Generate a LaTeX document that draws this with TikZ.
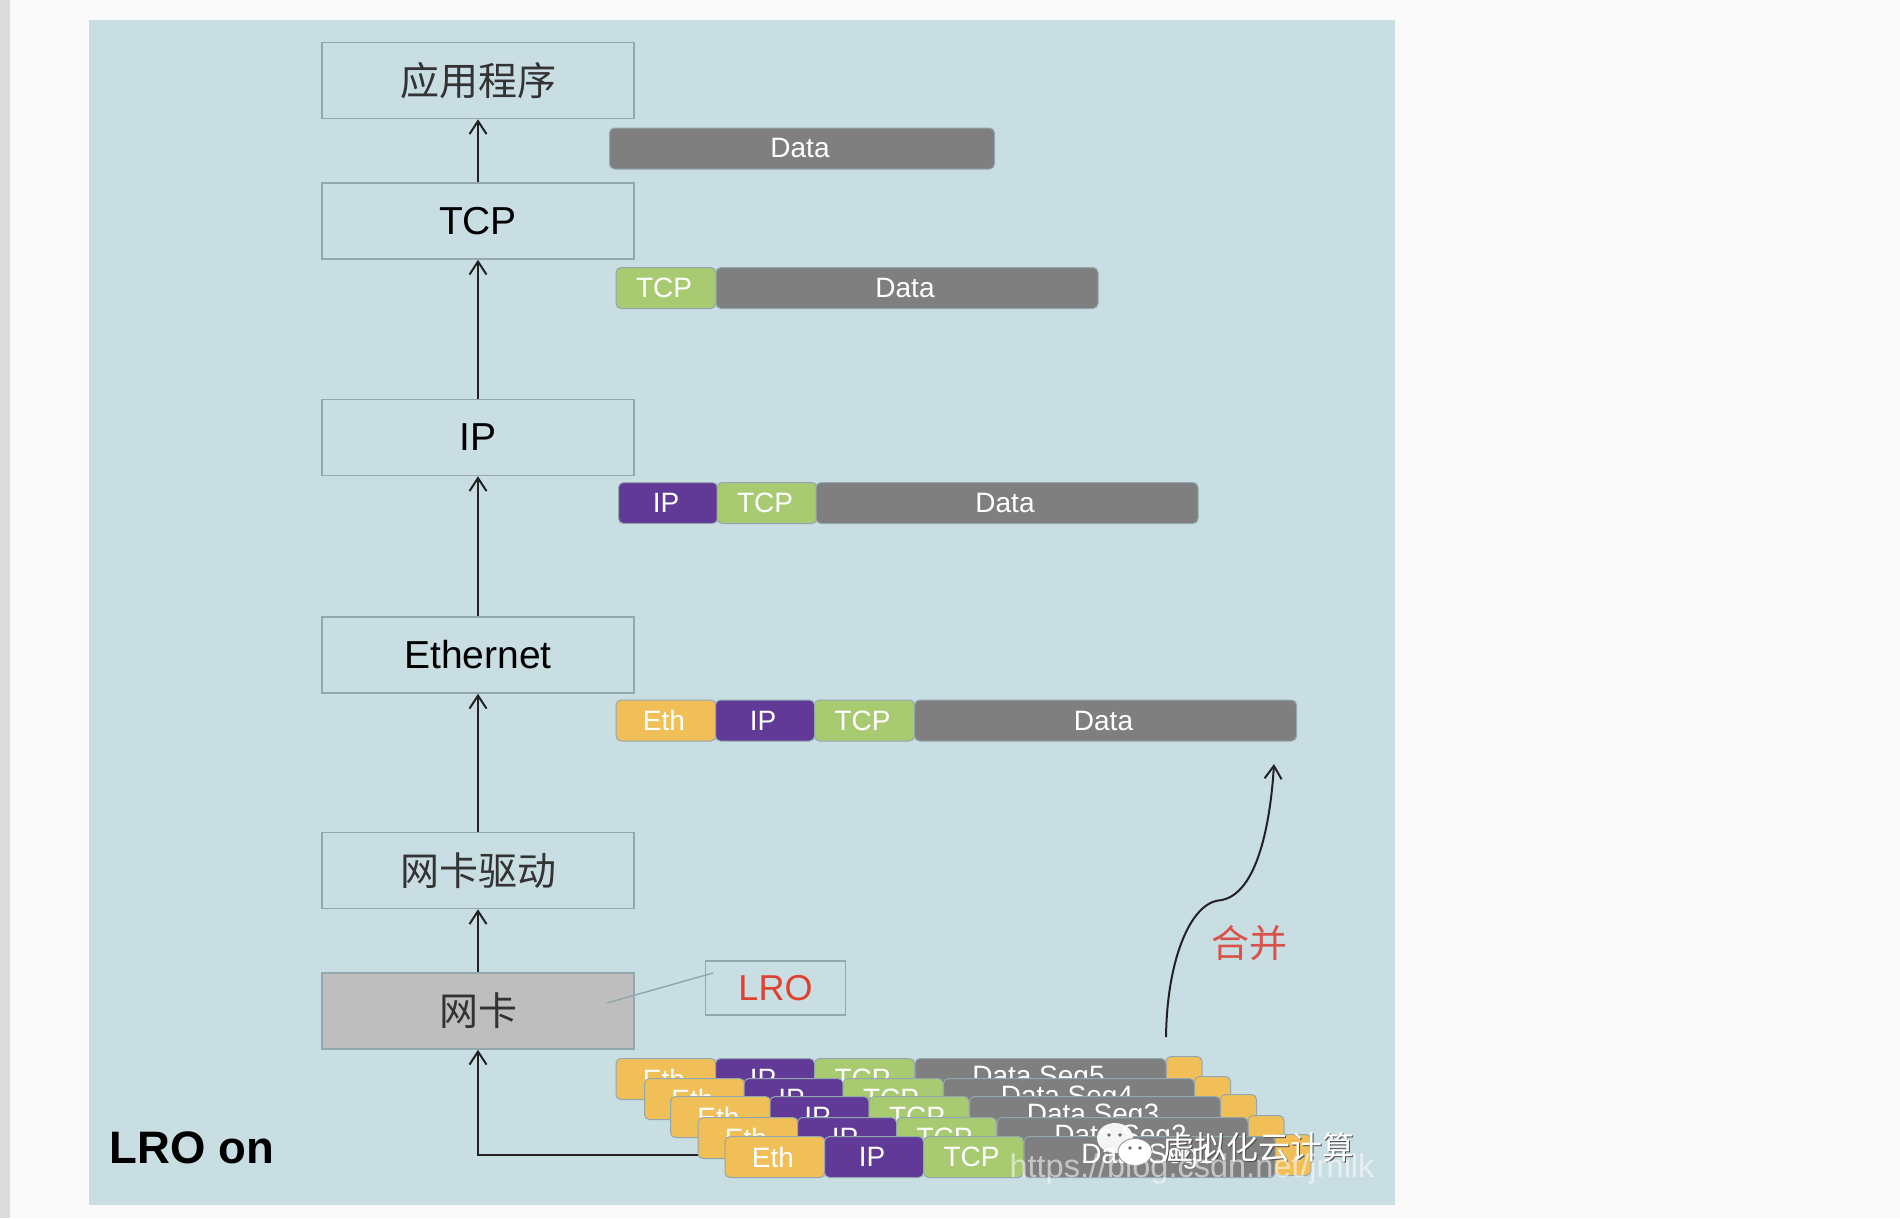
\documentclass[tikz,border=0pt]{standalone}
\usepackage{fontspec}
\setmainfont{Liberation Sans}
\newfontfamily\cjk{Noto Sans CJK SC}
\usepackage{xcolor}
\usepackage{tikz}
\usetikzlibrary{backgrounds}
\usetikzlibrary{arrows.meta}
\definecolor{pagebg}{HTML}{FAFAFA}
\definecolor{stripbg}{HTML}{DCDCDC}
\definecolor{panelbg}{HTML}{C9DEE3}
\definecolor{edgec}{HTML}{93A8AE}
\definecolor{ethc}{HTML}{F0BF58}
\definecolor{ipc}{HTML}{603A96}
\definecolor{tcpc}{HTML}{A8CB72}
\definecolor{datc}{HTML}{7F7F7F}
\definecolor{nicc}{HTML}{BEBEBE}
\definecolor{arrc}{HTML}{222222}
\definecolor{lroc}{HTML}{E0402F}
\definecolor{hebc}{HTML}{D9534A}

\newcommand{\pkfont}{\fontsize{28}{30}\selectfont\kern-4pt}
\newcommand{\lyfont}{\fontsize{39}{42}\selectfont}

\begin{document}
\begin{tikzpicture}
[x=1pt,y=-1pt,
background rectangle/.style={fill=pagebg},
show background rectangle,inner frame sep=0pt,
layr/.style={rectangle,draw=edgec,line width=1.5pt,minimum width=312pt,minimum height=76pt,inner sep=0pt,font=\lyfont},
nicb/.style={layr,fill=nicc},
lrob/.style={rectangle,draw=edgec,line width=1.5pt,minimum width=140pt,minimum height=54pt,inner sep=0pt},
pack/.style={rectangle,draw=edgec,line width=1pt,rounded corners=5pt,minimum height=41pt,inner sep=0pt,text=white,font=\pkfont},
ethh/.style={pack,fill=ethc,minimum width=100pt},
iphd/.style={pack,fill=ipc,minimum width=99pt},
tcph/.style={pack,fill=tcpc,minimum width=100pt},
datp/.style={pack,fill=datc,minimum width=382pt},
segd/.style={pack,fill=datc,minimum width=251pt},
tailb/.style={pack,fill=ethc,minimum width=36pt},
upar/.style={-{Straight Barb[length=13pt,width=17pt]},draw=arrc,line width=2pt}]

\useasboundingbox (0,0) rectangle (1900,1218);
\fill [stripbg] (0,0) rectangle (10,1218);
\fill [panelbg] (89,20) rectangle (1395,1205);

% protocol layers
\node at (478,80.5) [layr] (app)  {\color{black!80}\cjk 应用程序};
\node at (478,221)  [layr] (tcp)  {TCP};
\node at (478,437.5) [layr] (ip)  {IP};
\node at (478,655)  [layr] (eth)  {Ethernet};
\node at (478,870.5) [layr] (drv) {\color{black!80}\cjk 网卡驱动};
\node at (478,1011) [nicb] (nic) {\color{black!80}\cjk 网卡};
\node at (775.5,988)  [lrob] (lro) {\fontsize{36}{38}\selectfont\color{lroc} LRO};
\node at (192,1148) (lroon) {\fontsize{45.5}{48}\selectfont\bfseries LRO on};

\coordinate (niclead) at (607,1003);
\coordinate (lrolead) at (713,973);
\draw [draw=edgec,line width=1.5pt] (niclead) to (lrolead);

\draw [upar] (tcp.north) to (app.south);
\draw [upar] (ip.north) to (tcp.south);
\draw [upar] (eth.north) to (ip.south);
\draw [upar] (drv.north) to (eth.south);
\draw [upar] (nic.north) to (drv.south);
\coordinate (wirein) at (700,1155);
\draw [upar] (wirein) -| (nic.south);

% packets on the way up
\node at (802,148.5) [pack,fill=datc,minimum width=385pt] (d0) {Data};

\node at (666,288)  [tcph] (t1) {TCP};
\node at (907,288)  [datp] (d1) {Data};

\node at (668,503)  [iphd] (i2) {IP};
\node at (767,503)  [tcph] (t2) {TCP};
\node at (1007,503) [datp] (d2) {Data};

\node at (666,720.5)  [ethh] (e3) {Eth};
\node at (765,720.5)  [iphd] (i3) {IP};
\node at (864.5,720.5) [tcph] (t3) {TCP};
\node at (1105.5,720.5) [datp] (d3) {Data};

% segments waiting on the card
\node at (1184,1077) [tailb] (x5) {};
\node at (666,1079)  [ethh] (e5) {Eth};
\node at (765,1079)  [iphd] (i5) {IP};
\node at (864.5,1079) [tcph] (t5) {TCP};
\node at (1040.5,1079) [segd] (s5) {Data Seg5};

\node at (1212.5,1097) [tailb] (x4) {};
\node at (694.5,1099) [ethh] (e4) {Eth};
\node at (793.5,1099) [iphd] (i4) {IP};
\node at (893,1099)  [tcph] (t4) {TCP};
\node at (1069,1099) [segd] (s4) {Data Seg4};

\node at (1238.5,1115) [tailb] (x33) {};
\node at (720.5,1117) [ethh] (e33) {Eth};
\node at (819.5,1117) [iphd] (i33) {IP};
\node at (919,1117)  [tcph] (t33) {TCP};
\node at (1095,1117) [segd] (s33) {Data Seg3};

\node at (1266,1136) [tailb] (x22) {};
\node at (748,1138)  [ethh] (e22) {Eth};
\node at (847,1138)  [iphd] (i22) {IP};
\node at (946.5,1138) [tcph] (t22) {TCP};
\node at (1122.5,1138) [segd] (s22) {Data Seg2};

\node at (1293,1155) [tailb] (x11) {};
\node at (775,1157)  [ethh] (e11) {Eth};
\node at (874,1157)  [iphd] (i11) {IP};
\node at (973.5,1157) [tcph] (t11) {TCP};
\node at (1149.5,1157) [segd] (s11) {Data Seg1};

% merge arrow
\coordinate (mrgout) at (1166,1037);
\coordinate (mrgmid) at (1218,900.5);
\coordinate (mrgin) at (1274,764);
\draw [upar] (mrgout) .. controls (1167,960) and (1190,905) .. (mrgmid)
  .. controls (1255,898) and (1270,830) .. (mrgin);
\node at (1249.5,943) (merge) {\fontsize{38}{40}\selectfont\cjk\color{hebc} 合并};

% overlay marks
\fill [white,opacity=0.92] (1115,1138) ellipse (18pt and 15pt);
\filldraw [fill=white,draw=black!45,line width=0.8pt] (1135,1152) ellipse (17pt and 13.5pt);
\fill [black!60] (1109,1135) circle (1.8pt);
\fill [black!60] (1120,1135) circle (1.8pt);
\fill [black!60] (1130,1148) circle (1.8pt);
\fill [black!60] (1140,1148) circle (1.8pt);
\node at (1259,1148.5) [text=black!70] (wmshade) {\fontsize{32}{36}\selectfont\cjk 虚拟化云计算};
\node at (1258,1147) [text=white] (wmname) {\fontsize{32}{36}\selectfont\cjk 虚拟化云计算};
\node at (1192,1169) [text=white,opacity=0.55] (wmurl) {\fontsize{32.5}{35}\selectfont https://blog.csdn.net/jmilk};
\end{tikzpicture}
\end{document}
